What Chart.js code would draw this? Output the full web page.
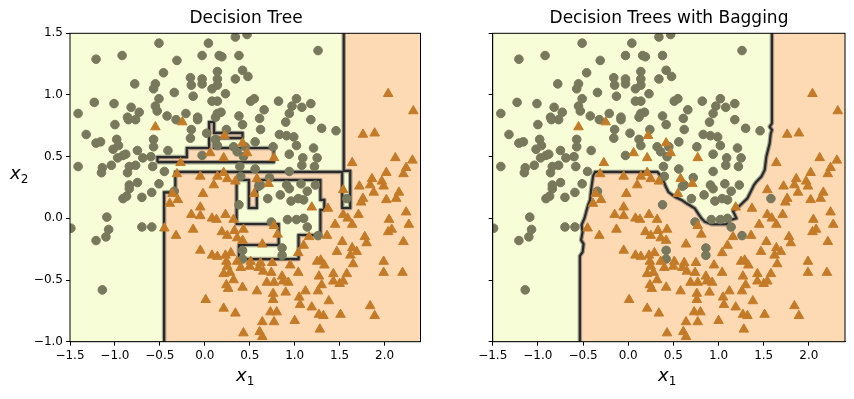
<!DOCTYPE html>
<html><head><meta charset="utf-8">
<script src="https://cdn.jsdelivr.net/npm/chart.js@4.4.0/dist/chart.umd.min.js"></script>
<style>
html,body{margin:0;padding:0;background:#fff;}
#wrap{position:relative;width:854px;height:399px;overflow:hidden;font-family:"DejaVu Sans",sans-serif;color:#000;}
canvas{position:absolute;top:0;}
.t{position:absolute;font-size:17px;white-space:nowrap;transform:translateX(-50%);}
.lab{position:absolute;font-size:18px;font-style:italic;white-space:nowrap;}
.lab sub{font-size:12px;font-style:normal;vertical-align:-4px;}
</style></head><body><div id="wrap">
<canvas id="c1" width="427" height="399" style="left:0"></canvas>
<canvas id="c2" width="427" height="399" style="left:427px"></canvas>
<div class="t" style="left:246px;top:7px">Decision Tree</div>
<div class="t" style="left:669px;top:7px">Decision Trees with Bagging</div>
<div class="lab" style="left:236px;top:364px">x<sub>1</sub></div>
<div class="lab" style="left:658px;top:364px">x<sub>1</sub></div>
<div class="lab" style="left:10px;top:162px">x<sub>2</sub></div>
</div>
<script>
const xTicks=[-1.5,-1,-0.5,0,0.5,1,1.5,2];
const yTicks=[-1,-0.5,0,0.5,1,1.5];

// class 0 (circles)
const circX=[-0.51,-1.21,-0.92,-0.31,-0.46,-0.78,-0.55,-0.57,-0.34,-0.51,-1.23,-1.01,-1.41,-0.82,-0.73,-0.55,-0.53,-0.86,-0.77,-0.85,-0.42,-0.32,-0.21,-1.00,-1.32,-1.21,-1.16,-0.98,-0.57,-0.57,-1.02,-0.96,-0.91,-0.88,-0.97,-0.75,-0.69,-0.60,-1.41,-1.14,-1.04,-1.15,-0.84,-0.77,-0.86,-0.58,-0.45,-0.51,-0.75,-0.84,-0.41,
0.34,0.47,0.04,-0.03,0.16,0.19,0.38,0.42,0.48,0.34,0.14,-0.16,-0.03,-0.15,-0.03,0.14,0.14,0.08,0.23,-0.13,0.08,0.14,0.51,0.55,0.82,1.02,0.97,0.66,0.94,-0.08,-0.08,0.14,0.18,0.12,0.38,0.61,0.90,0.42,-0.15,0.62,0.83,0.91,0.99,1.02,-0.16,0.02,0.12,0.14,0.24,0.56,0.76,0.32,0.36,0.45,0.43,-0.03,0.94,0.39,0.56,0.72,0.40,0.94,0.62,0.91,
1.26,1.08,1.18,1.18,1.30,1.46,1.21,1.09,1.25,1.22,1.08,1.23,1.07,
-0.84,-0.91,-0.87,-0.70,-0.59,-1.09,-1.49,-1.07,-1.10,-1.21,-0.70,-0.59,-1.14,-0.34,
0.60,0.38,0.70,0.84,0.94,0.96,1.04,0.92,1.02,0.74,0.42,0.86,0.86,0.42,1.14,1.10,1.14,1.26,1.10,1.58];
const circY=[1.42,1.29,1.32,1.28,1.18,1.09,1.09,1.05,1.02,0.97,0.94,0.93,0.85,0.90,0.86,0.91,0.87,0.82,0.80,0.80,0.83,0.80,0.85,0.76,0.68,0.61,0.62,0.64,0.64,0.58,0.56,0.59,0.51,0.52,0.49,0.55,0.49,0.50,0.42,0.41,0.43,0.37,0.42,0.43,0.37,0.42,0.38,0.28,0.29,0.27,0.55,
1.47,1.49,1.42,1.32,1.32,1.31,1.32,1.20,1.15,1.13,1.19,1.14,1.13,1.08,1.09,1.13,1.08,1.05,1.01,0.99,0.95,0.95,0.95,0.97,0.95,0.97,0.91,0.88,0.85,0.82,0.80,0.85,0.86,0.82,0.83,0.81,0.78,0.76,0.72,0.72,0.68,0.67,0.66,0.59,0.65,0.69,0.64,0.59,0.72,0.62,0.58,0.58,0.54,0.58,0.50,0.51,0.52,0.42,0.40,0.33,0.34,0.38,0.27,0.27,
1.36,0.90,0.93,0.80,0.73,0.71,0.57,0.49,0.49,0.42,0.43,0.27,0.28,
0.24,0.16,0.18,0.17,0.21,0.01,-0.08,-0.09,-0.15,-0.18,-0.07,-0.07,-0.58,0.22,
0.26,0.11,0.16,0.19,0.24,0.14,0.16,-0.01,-0.01,-0.03,-0.26,-0.24,-0.30,-0.33,0.22,0.15,-0.07,-0.14,0.00,0.16];

// class 1 (triangles)
const triX=[-0.55,-0.25,-0.27,-0.31,0.22,0.42,0.06,0.47,0.21,0.77,-0.05,0.14,0.21,0.25,0.34,0.10,0.58,0.71,
2.04,2.32,1.76,1.89,1.64,2.12,2.31,2.24,2.02,2.21,1.86,1.97,1.72,1.84,1.99,1.54,
-0.36,-0.30,-0.39,-0.45,-0.32,
-0.02,-0.05,-0.15,-0.05,0.08,0.13,0.23,0.32,-0.13,0.19,0.25,0.33,0.43,0.36,0.42,-0.05,0.08,0.14,0.23,0.24,0.29,0.36,0.51,0.62,0.50,0.60,0.75,0.95,1.04,0.25,0.21,0.28,0.65,0.74,0.32,0.24,0.26,0.42,0.58,0.69,0.77,0.86,0.87,0.93,0.76,0.76,0.90,1.05,1.06,0.01,0.21,0.34,0.73,0.80,0.64,0.77,1.00,0.61,0.64,0.43,0.55,0.77,0.81,0.64,1.04,
1.88,1.76,2.02,2.13,2.16,1.19,1.37,1.54,1.59,1.71,2.24,2.05,1.45,1.64,2.27,2.04,2.08,1.36,1.16,1.78,1.80,1.10,1.53,2.21,1.47,1.64,1.69,1.62,1.29,1.25,1.33,1.65,1.99,1.99,2.20,1.43,1.58,1.27,1.43,1.54,1.50,1.30,1.26,1.12,1.38,1.19,1.84,1.27,1.32,1.51,1.89,1.28,1.74,0.40];
const triY=[0.74,0.78,0.45,0.36,0.67,0.61,0.53,0.53,0.49,0.49,0.34,0.34,0.37,0.32,0.30,0.27,0.32,0.28,
1.01,0.87,0.68,0.69,0.45,0.49,0.47,0.41,0.37,0.36,0.32,0.30,0.26,0.27,0.26,0.23,
0.20,0.15,0.12,-0.08,-0.14,
0.20,0.09,0.03,0.02,0.00,-0.01,0.03,-0.01,-0.09,-0.11,-0.14,-0.10,-0.09,-0.16,-0.18,-0.26,-0.30,-0.31,-0.30,-0.35,-0.28,-0.35,-0.35,-0.36,-0.39,-0.40,-0.36,-0.38,-0.44,-0.39,-0.45,-0.44,-0.43,-0.44,-0.50,-0.54,-0.57,-0.56,-0.59,-0.52,-0.52,-0.47,-0.51,-0.52,-0.61,-0.66,-0.60,-0.64,-0.70,-0.66,-0.73,-0.77,-0.76,-0.76,-0.84,-0.84,-0.83,-0.92,-0.96,-0.93,0.20,-0.06,-0.13,-0.21,-0.28,
0.21,0.16,0.15,0.16,0.21,0.09,0.08,0.03,0.00,0.03,0.05,-0.01,-0.05,-0.05,-0.05,-0.11,-0.09,-0.14,-0.15,-0.15,-0.20,-0.22,-0.19,-0.19,-0.27,-0.24,-0.27,-0.30,-0.34,-0.35,-0.38,-0.37,-0.35,-0.44,-0.44,-0.45,-0.45,-0.47,-0.51,-0.51,-0.53,-0.54,-0.59,-0.59,-0.67,-0.72,-0.71,-0.78,-0.79,-0.78,-0.79,-0.90,0.13,-0.40];

// Decision tree regions (left)
const treeOrangeMain=[[-0.453,-1],[-0.453,0.211],[-0.328,0.211],[-0.328,0.376],[1.529,0.376],[1.529,0.084],[1.618,0.084],[1.618,0.384],[1.546,0.384],[1.546,1.5],[2.4,1.5],[2.4,-1]];
const treeOrangeBar=[[-0.527,0.455],[0.767,0.455],[0.767,0.570],[0.103,0.570],[0.103,0.651],[0.420,0.651],[0.420,0.692],[0.103,0.692],[0.103,0.781],[0.048,0.781],[0.048,0.570],[-0.200,0.570],[-0.200,0.497],[-0.527,0.497]];
const treeYellowIsland=[[0.354,0.311],[0.490,0.311],[0.490,0.084],[0.579,0.084],[0.579,0.311],[1.286,0.311],[1.286,0.149],[1.330,0.149],[1.330,0.068],[1.286,0.068],[1.286,-0.135],[1.043,-0.135],[1.043,-0.330],[0.380,-0.330],[0.380,-0.216],[0.822,-0.216],[0.822,-0.046],[0.354,-0.046]];
const treeEdgeMain=[[-0.453,-1],[-0.453,0.211],[-0.328,0.211],[-0.328,0.376],[1.529,0.376],[1.529,0.084],[1.618,0.084],[1.618,0.384],[1.546,0.384],[1.546,1.5]];

// Bagging boundary (right)
const bagEdge=[[-0.535,-1],[-0.535,-0.305],[-0.505,-0.273],[-0.494,-0.208],[-0.522,-0.176],[-0.505,-0.111],[-0.516,-0.054],[-0.483,0.003],[-0.466,0.051],[-0.444,0.108],[-0.422,0.149],[-0.411,0.230],[-0.389,0.343],[-0.367,0.376],[0.324,0.376],[0.380,0.327],[0.413,0.262],[0.446,0.213],[0.516,0.175],[0.590,0.149],[0.645,0.122],[0.737,0.081],[0.773,0.041],[0.811,0.0],[0.847,-0.027],[0.921,-0.048],[1.087,-0.048],[1.131,-0.013],[1.198,0.0],[1.160,0.059],[1.234,0.102],[1.319,0.162],[1.356,0.216],[1.392,0.270],[1.419,0.297],[1.474,0.338],[1.511,0.392],[1.529,0.500],[1.566,0.608],[1.577,0.684],[1.591,0.716],[1.566,0.743],[1.591,0.770],[1.591,1.5]];
const bagOrange=bagEdge.concat([[2.4,1.5],[2.4,-1]]);

const fullRect=[[-1.5,-1],[2.4,-1],[2.4,1.5],[-1.5,1.5]];
const YELLOW='#f7fdd6', ORANGE='#fdd9b4', CIRC='#78785c', TRI='#c47b27';

function pts(a){return a.map(p=>({x:p[0],y:p[1]}));}
function closed(a){return a.concat([a[0]]);}
function area(a,c,o){return {data:pts(a),fill:'shape',backgroundColor:c,borderWidth:0,pointRadius:0,tension:0,order:o};}
function edge(a){return [
 {data:pts(a),fill:false,borderColor:'rgba(85,85,85,0.5)',borderWidth:4.5,pointRadius:0,tension:0,order:31,borderJoinStyle:'round'},
 {data:pts(a),fill:false,borderColor:'#2a2a2a',borderWidth:2.2,pointRadius:0,tension:0,order:30,borderJoinStyle:'miter'}];}
function marks(xs,ys,style,r,col,o){return {data:xs.map((x,i)=>({x:x,y:ys[i]})),showLine:false,fill:false,pointStyle:style,pointRadius:r,pointBackgroundColor:col,pointBorderColor:col,pointBorderWidth:1,order:o};}
function fmt(v){return (v<0?'\u2212':'')+Math.abs(v).toFixed(1);}

const frame={id:'frame',afterDatasetsDraw(ch){const a=ch.chartArea,c=ch.ctx;c.save();c.strokeStyle='#000';c.lineWidth=1;c.strokeRect(a.left,a.top,a.right-a.left,a.bottom-a.top);c.restore();}};

function scales(showY,yw){
 const tickFont={family:'DejaVu Sans',size:12};
 return {
  x:{type:'linear',min:-1.5,max:2.4,
     afterBuildTicks:s=>{s.ticks=xTicks.map(v=>({value:v}));},
     afterFit:s=>{s.height=57.3;},
     ticks:{color:'#000',font:tickFont,padding:3,maxRotation:0,autoSkip:false,callback:v=>fmt(v)},
     grid:{drawOnChartArea:false,drawTicks:true,tickLength:4,color:'#000'},
     border:{display:true,color:'#000'}},
  y:{type:'linear',min:-1,max:1.5,
     afterBuildTicks:s=>{s.ticks=yTicks.map(v=>({value:v}));},
     afterFit:s=>{s.width=yw;},
     ticks:{color:'#000',font:tickFont,padding:3,autoSkip:false,callback:v=>showY?fmt(v):''},
     grid:{drawOnChartArea:false,drawTicks:true,tickLength:4,color:'#000'},
     border:{display:true,color:'#000'}}
 };
}
function opts(showY,yw,padR){return {responsive:false,animation:false,events:[],
 layout:{padding:{top:33.3,right:padR,left:0,bottom:0}},
 plugins:{legend:{display:false},tooltip:{enabled:false},title:{display:false}},
 scales:scales(showY,yw)};}

const leftSets=[area(fullRect,YELLOW,100),area(treeOrangeMain,ORANGE,90),area(treeOrangeBar,ORANGE,89),area(treeYellowIsland,YELLOW,80)]
 .concat(edge(treeEdgeMain),edge(closed(treeOrangeBar)),edge(closed(treeYellowIsland)))
 .concat([marks(circX,circY,'circle',4.3,CIRC,20),marks(triX,triY,'triangle',5.5,TRI,10)]);
const rightSets=[area(fullRect,YELLOW,100),area(bagOrange,ORANGE,90)]
 .concat(edge(bagEdge))
 .concat([marks(circX,circY,'circle',4.3,CIRC,20),marks(triX,triY,'triangle',5.5,TRI,10)]);

new Chart(document.getElementById('c1'),{type:'line',data:{datasets:leftSets},options:opts(true,70,4.3),plugins:[frame]});
new Chart(document.getElementById('c2'),{type:'line',data:{datasets:rightSets},options:opts(false,65.7,9),plugins:[frame]});
</script></body></html>
